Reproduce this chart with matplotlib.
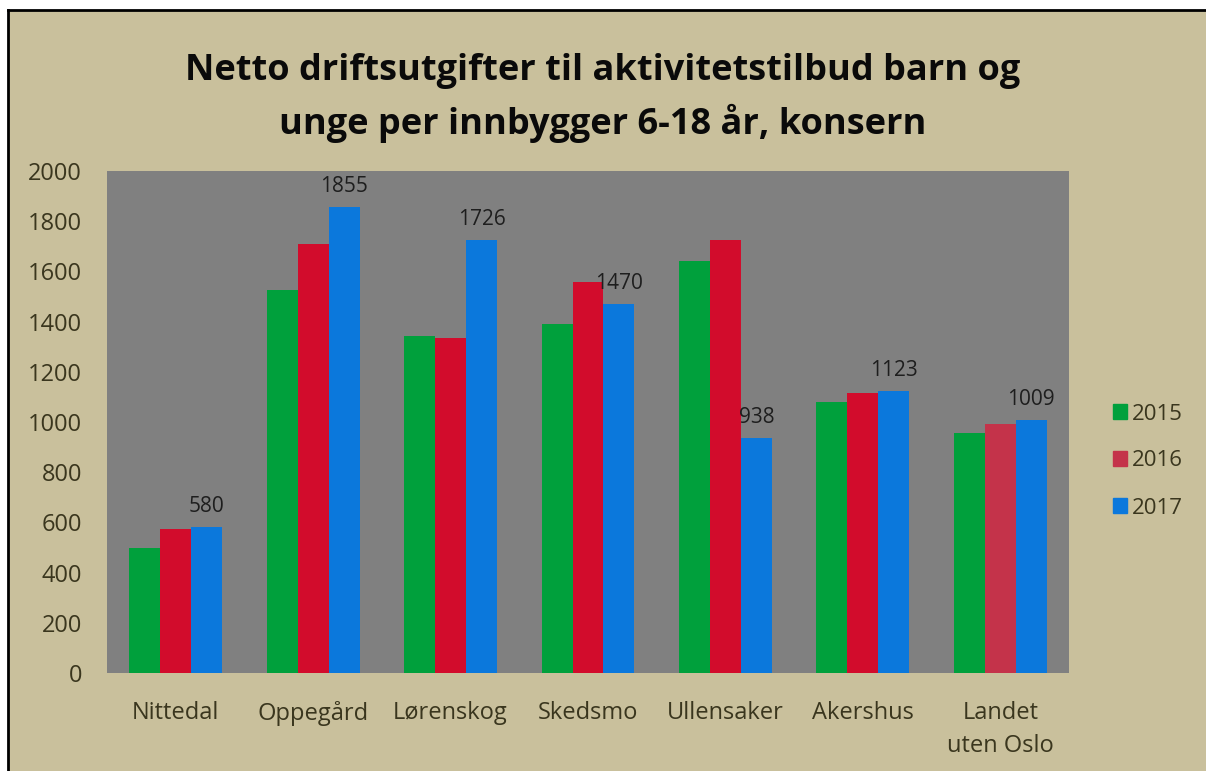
import matplotlib
matplotlib.use("Agg")
import matplotlib.pyplot as plt
from matplotlib.patches import Rectangle, Patch
import numpy as np

categories = ["Nittedal", "Oppegård", "Lørenskog", "Skedsmo", "Ullensaker", "Akershus", "Landet\nuten Oslo"]
years = ["2015", "2016", "2017"]
v2015 = [500, 1526, 1341, 1389, 1642, 1078, 957]
v2016 = [575, 1709, 1334, 1558, 1724, 1117, 994]
v2017 = [580, 1855, 1726, 1470, 938, 1123, 1009]
yticks = [0, 200, 400, 600, 800, 1000, 1200, 1400, 1600, 1800, 2000]

c_green = "#00a03c"
c_red = "#d20c2c"
c_red2 = "#c4334a"
c_blue = "#0b78dc"
bg = "#c9c09c"
plot_bg = "#808080"
txt = "#3a361e"

plt.rcParams['font.family'] = ['Open Sans', 'DejaVu Sans']

W, H = 1206, 771
fig = plt.figure(figsize=(W / 100, H / 100), dpi=100)
fig.patch.set_facecolor("white")
# tan background with black border on left/top
fig.patches.append(Rectangle((8 / W, 0), 1 - 8 / W, (H - 10) / H, transform=fig.transFigure,
                             facecolor=bg, edgecolor="none", zorder=-10))
fig.lines.append(plt.Line2D([8 / W, 8 / W], [0, (H - 10) / H], transform=fig.transFigure, color="black", lw=2))
fig.lines.append(plt.Line2D([8 / W, 1], [(H - 10) / H, (H - 10) / H], transform=fig.transFigure, color="black", lw=2))

left, right, top, bottom = 107, 1069, 171, 673
ax = fig.add_axes([left / W, 1 - bottom / H, (right - left) / W, (bottom - top) / H])
ax.set_facecolor(plot_bg)

x = np.arange(len(categories))
bw = 0.225
colors2016 = [c_red] * (len(categories) - 1) + [c_red2]
ax.bar(x - bw, v2015, bw, color=c_green, zorder=2)
ax.bar(x, v2016, bw, color=colors2016, zorder=2)
ax.bar(x + bw, v2017, bw, color=c_blue, zorder=2)
for xi, v in zip(x + bw, v2017):
    ax.text(xi, v + 40, str(v), ha="center", va="bottom", fontsize=15, color="#1e1e1e")

ax.set_xlim(-0.5, len(categories) - 0.5)
ax.set_ylim(0, 2000)
ax.set_yticks(yticks)
ax.set_yticklabels([str(t) for t in yticks], fontsize=17, color=txt)
ax.set_xticks(x)
ax.set_xticklabels(categories, fontsize=17, color=txt, linespacing=1.52)
ax.tick_params(axis="both", length=0)
ax.tick_params(axis="y", pad=18)
ax.tick_params(axis="x", pad=20)
for s in ax.spines.values():
    s.set_visible(False)

handles = [Patch(color=c_green), Patch(color=c_red2), Patch(color=c_blue)]
fig.legend(handles, years, loc="center left", bbox_to_anchor=(1104 / W, 1 - 461 / H),
           frameon=False, fontsize=16, labelcolor=txt, handlelength=0.62, handleheight=0.62,
           handletextpad=0.25, labelspacing=1.17, borderaxespad=0)

fig.text(603 / W, 1 - 98 / H, "Netto driftsutgifter til aktivitetstilbud barn og\nunge per innbygger 6-18 år, konsern",
         ha="center", va="center", fontsize=26, fontweight="bold", color="#0a0a0a", linespacing=1.5)

fig.savefig("out.png", dpi=100, facecolor=fig.get_facecolor())
